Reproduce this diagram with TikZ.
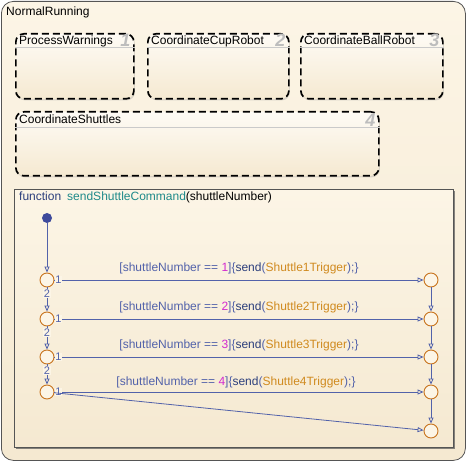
\documentclass[tikz,border=0pt]{standalone}
\usepackage{fontspec}
\setmainfont{Liberation Sans}
\usepackage{xcolor}
\usepackage{tikz}
\usetikzlibrary{arrows.meta,positioning,shadows}
\definecolor{SfBlue}{HTML}{5262AA}
\definecolor{SfNavy}{HTML}{2C3F7C}
\definecolor{SfDot}{HTML}{3E4A9C}
\definecolor{SfOrange}{HTML}{C8741E}
\definecolor{SfGold}{HTML}{D08A1E}
\definecolor{SfMagenta}{HTML}{D22AD0}
\definecolor{SfTeal}{HTML}{1F8A8A}
\definecolor{SfCreamTop}{HTML}{FCF5E6}
\definecolor{SfCreamBot}{HTML}{F5E9D1}
\definecolor{SfEdge}{HTML}{555555}
\definecolor{SfGrey}{HTML}{BDBDBD}
\tikzset{
  chartbox/.style={draw=SfEdge,line width=0.8pt,rounded corners=12pt,top color=SfCreamTop,bottom color=SfCreamBot,anchor=north west,inner sep=0pt},
  substate/.style={draw=black,line width=1.7pt,dash pattern=on 7pt off 4pt,rounded corners=8pt,top color=white!60!SfCreamTop,bottom color=SfCreamBot,anchor=north west,inner sep=0pt,drop shadow={shadow xshift=1pt,shadow yshift=-1.5pt,opacity=0.25}},
  funcbox/.style={draw=SfEdge,line width=0.9pt,top color=SfCreamTop,bottom color=SfCreamBot,anchor=north west,inner sep=0pt,drop shadow={shadow xshift=1.5pt,shadow yshift=-1.5pt,opacity=0.7,fill=SfEdge}},
  statelabel/.style={anchor=base west,inner sep=0pt,font=\fontsize{12}{14}\selectfont},
  sepline/.style={draw=SfGrey!80,line width=0.6pt},
  ordernum/.style={anchor=north east,inner sep=0pt,text=SfGrey,font=\fontsize{18}{18}\selectfont\bfseries\itshape},
  junction/.style={circle,draw=SfOrange,line width=0.9pt,fill=SfCreamTop,minimum size=14pt,inner sep=0pt},
  defaultdot/.style={circle,fill=SfDot,minimum size=10pt,inner sep=0pt},
  trans/.style={draw=SfBlue,line width=0.8pt,-{Triangle[open,length=6pt,width=5pt]}},
  transnum/.style={font=\fontsize{11}{11}\selectfont,text=SfBlue,fill=SfCreamTop,inner sep=0.5pt},
  guard/.style={font=\fontsize{12}{14}\selectfont,text=SfBlue,inner sep=0pt}
}
\begin{document}
\begin{tikzpicture}[x=1pt,y=-1pt]
\useasboundingbox (0,0) rectangle (468,462);
% parent state
\node[chartbox,minimum width=464pt,minimum height=459pt] (normal) at (1,1) {};
\node[statelabel] at (6,16) {NormalRunning};
% parallel substates
\node[substate,minimum width=118pt,minimum height=65pt] (warn) at (15,33) {};
\node[substate,minimum width=141pt,minimum height=65pt] (cup) at (147,33) {};
\node[substate,minimum width=142pt,minimum height=65pt] (ball) at (300,33) {};
\node[substate,minimum width=363pt,minimum height=64pt] (shut) at (15,111) {};
\draw[sepline] ([yshift=-14pt]warn.north west) -- ([yshift=-14pt]warn.north east);
\draw[sepline] ([yshift=-14pt]cup.north west) -- ([yshift=-14pt]cup.north east);
\draw[sepline] ([yshift=-14pt]ball.north west) -- ([yshift=-14pt]ball.north east);
\draw[sepline] ([yshift=-16pt]shut.north west) -- ([yshift=-16pt]shut.north east);
\node[statelabel] at ([xshift=4pt,yshift=-11.5pt]warn.north west) {ProcessWarnings};
\node[statelabel] at ([xshift=4pt,yshift=-11.5pt]cup.north west) {CoordinateCupRobot};
\node[statelabel] at ([xshift=4pt,yshift=-11.5pt]ball.north west) {CoordinateBallRobot};
\node[statelabel] at ([xshift=4pt,yshift=-12.5pt]shut.north west) {CoordinateShuttles};
\node[ordernum] at ([xshift=-4pt,yshift=-1pt]warn.north east) {1};
\node[ordernum] at ([xshift=-4pt,yshift=-1pt]cup.north east) {2};
\node[ordernum] at ([xshift=-4pt,yshift=-1pt]ball.north east) {3};
\node[ordernum] at ([xshift=-4pt,yshift=-3pt]shut.north east) {4};
% graphical function
\node[funcbox,minimum width=439pt,minimum height=258pt] (func) at (14,189) {};
\node[statelabel] at (19,201) {\color{SfNavy}function\hspace{6pt}\color{SfTeal}sendShuttleCommand\color{black}(shuttleNumber)};
% junctions
\node[defaultdot] (start) at (47,218) {};
\node[junction] (j1) at (47,280) {};
\node[junction] (j2) at (47,319) {};
\node[junction] (j3) at (47,357) {};
\node[junction] (j4) at (47,392) {};
\node[junction] (r1) at (431,280) {};
\node[junction] (r2) at (431,319) {};
\node[junction] (r3) at (431,357) {};
\node[junction] (r4) at (431,392) {};
\node[junction] (r5) at (431,431) {};
% transitions
\draw[trans] (start) -- (j1);
\draw[trans] (j1) -- node[pos=0,anchor=west,transnum] {1} node[midway,above=6pt,guard] {[shuttleNumber == \textcolor{SfMagenta}{1}]\{\textcolor{SfNavy}{send}(\textcolor{SfGold}{Shuttle1Trigger});\}} (r1);
\draw[trans] (j2) -- node[pos=0,anchor=west,transnum] {1} node[midway,above=6pt,guard] {[shuttleNumber == \textcolor{SfMagenta}{2}]\{\textcolor{SfNavy}{send}(\textcolor{SfGold}{Shuttle2Trigger});\}} (r2);
\draw[trans] (j3) -- node[pos=0,anchor=west,transnum] {1} node[midway,above=6pt,guard] {[shuttleNumber == \textcolor{SfMagenta}{3}]\{\textcolor{SfNavy}{send}(\textcolor{SfGold}{Shuttle3Trigger});\}} (r3);
\draw[trans] (j4) -- node[pos=0,anchor=west,transnum] {1} node[midway,above=4pt,xshift=-3pt,guard] {[shuttleNumber == \textcolor{SfMagenta}{4}]\{\textcolor{SfNavy}{send}(\textcolor{SfGold}{Shuttle4Trigger});\}} (r4);
\draw[trans] (j4) -- (r5);
\draw[trans] (j1) -- node[pos=0.05,anchor=north,transnum] {2} (j2);
\draw[trans] (j2) -- node[pos=0.05,anchor=north,transnum] {2} (j3);
\draw[trans] (j3) -- node[pos=0.05,anchor=north,transnum] {2} (j4);
\draw[trans] (r1) -- (r2);
\draw[trans] (r2) -- (r3);
\draw[trans] (r3) -- (r4);
\draw[trans] (r4) -- (r5);
\end{tikzpicture}
\end{document}
